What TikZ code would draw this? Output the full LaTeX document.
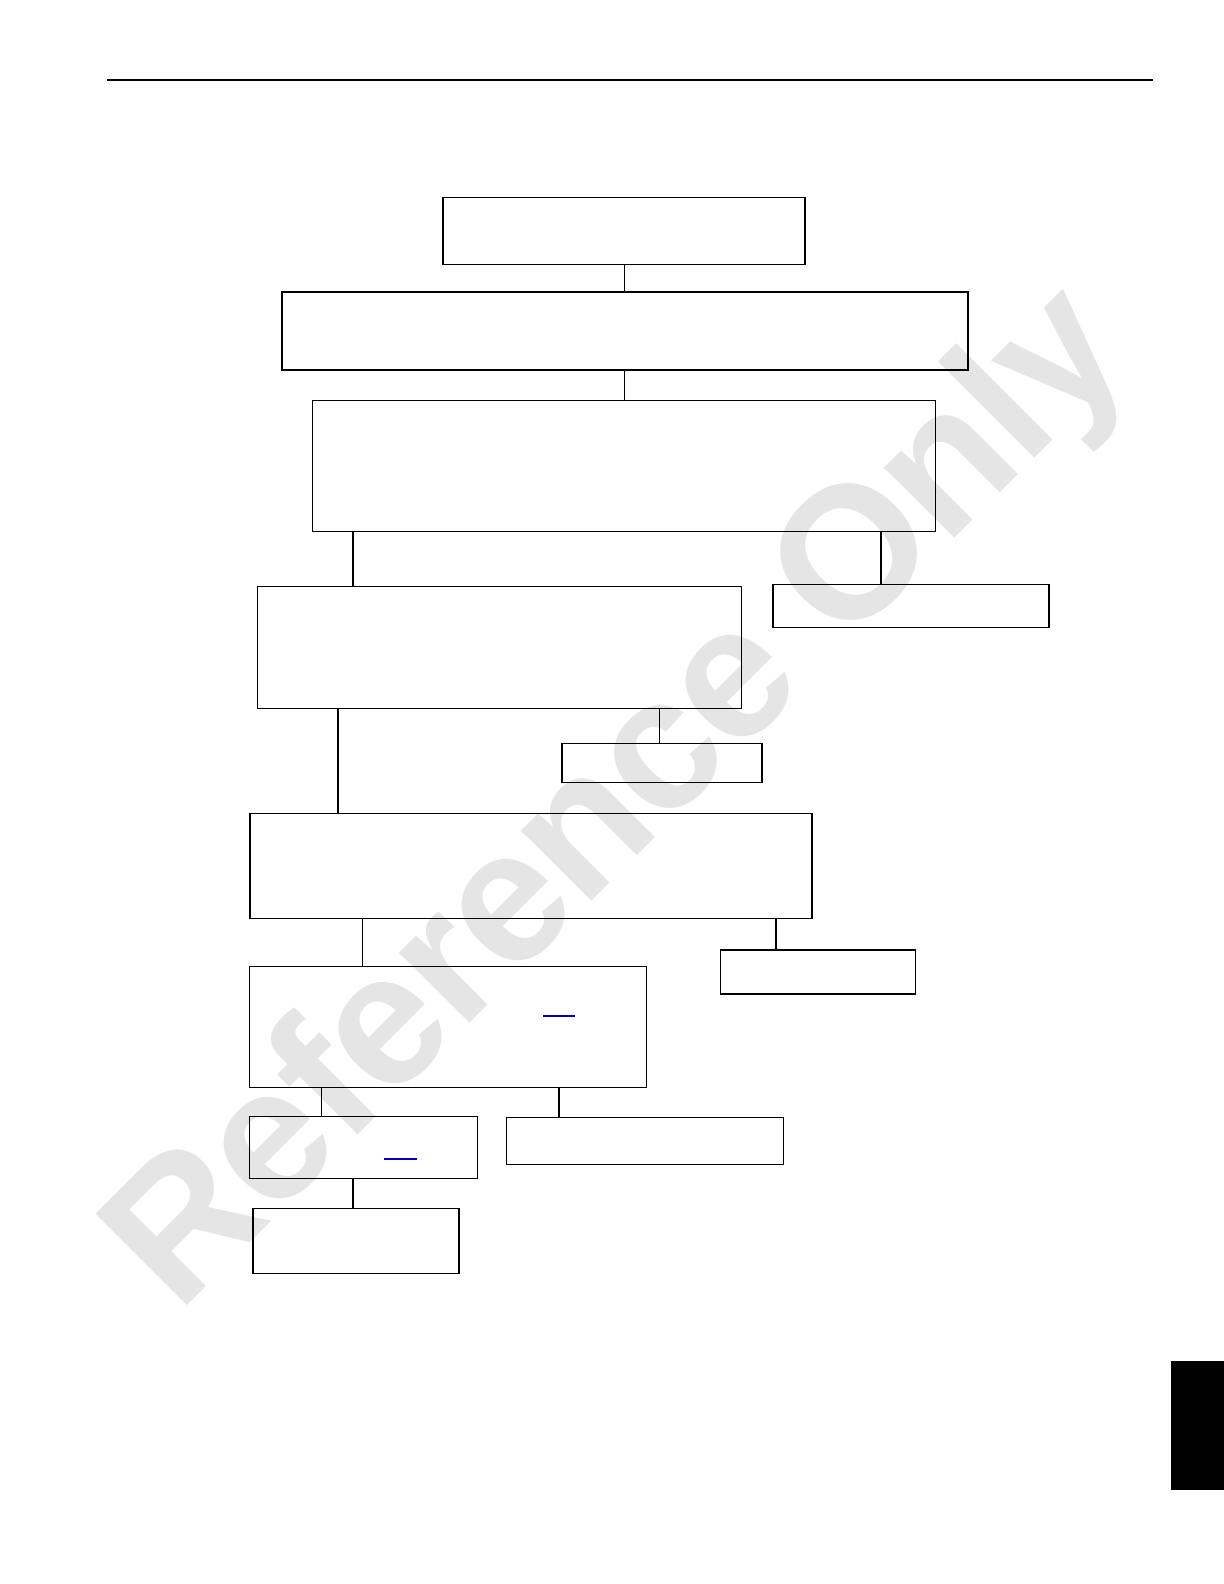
\documentclass[tikz,border=0pt]{standalone}
\usepackage{fontspec}
\setsansfont{Liberation Sans}
\tikzset{box/.style={draw,line width=0.9pt,inner sep=0pt}}
\tikzset{box 2/.style={line width=0.6pt}, box 4/.style={line width=0.5pt}, box 10/.style={line width=0.5pt}}
\tikzset{link/.style={draw=blue!75!black,line width=0.8pt}}

\begin{document}
\begin{tikzpicture}[x=0.5pt, y=-0.5pt]
	\useasboundingbox (0,0) rectangle (1224,1584);

	% watermark
	\node [rotate=45, anchor=base west, inner sep=0pt, text=black!10, font=\sffamily\bfseries\fontsize{94}{94}\selectfont\addfontfeature{LetterSpace=-1.2}] (mark) at (178,1315) {Reference Only};

	% page rule and tab
	\coordinate (rule-l) at (107,80);
	\coordinate (rule-r) at (1153,80);
	\draw [line width=1.2pt] (rule-l) -- (rule-r);
	\fill (1171,1361) rectangle (1224,1490);

	% boxes
	\foreach \m/\x/\y/\w/\h in {1/624/231/362/67, 2/625/331/686/78, 3/624/466/623/131,
	    4/499/647/484/122, 5/911/606/276/43, 6/662/763/200/39, 7/531/866/562/105,
	    8/448/1027/397/121, 9/818/972/195/44, 10/363/1147/228/62, 11/645/1141/277/47,
	    12/356/1241/206/65}
	  \node [box, box \m/.try, minimum width=\w*0.5pt, minimum height=\h*0.5pt] (box-\m) at (\x,\y) {};

	% thin connectors
	\foreach \a/\b/\x in {1/2/624, 2/3/624, 4/6/659, 7/8/362, 8/10/321}
	  \draw [line width=0.5pt] (box-\a.south -| \x,0) -- (box-\b.north -| \x,0);

	% heavy connectors
	\foreach \a/\b/\x in {3/4/353, 3/5/881, 4/7/338, 7/9/776, 8/11/559, 10/12/353}
	  \draw [line width=0.9pt] (box-\a.south -| \x,0) -- (box-\b.north -| \x,0);

	% link underlines
	\draw [link] (543,1016) -- (575,1016);
	\draw [link] (384,1159) -- (417,1159);

\end{tikzpicture}
\end{document}
